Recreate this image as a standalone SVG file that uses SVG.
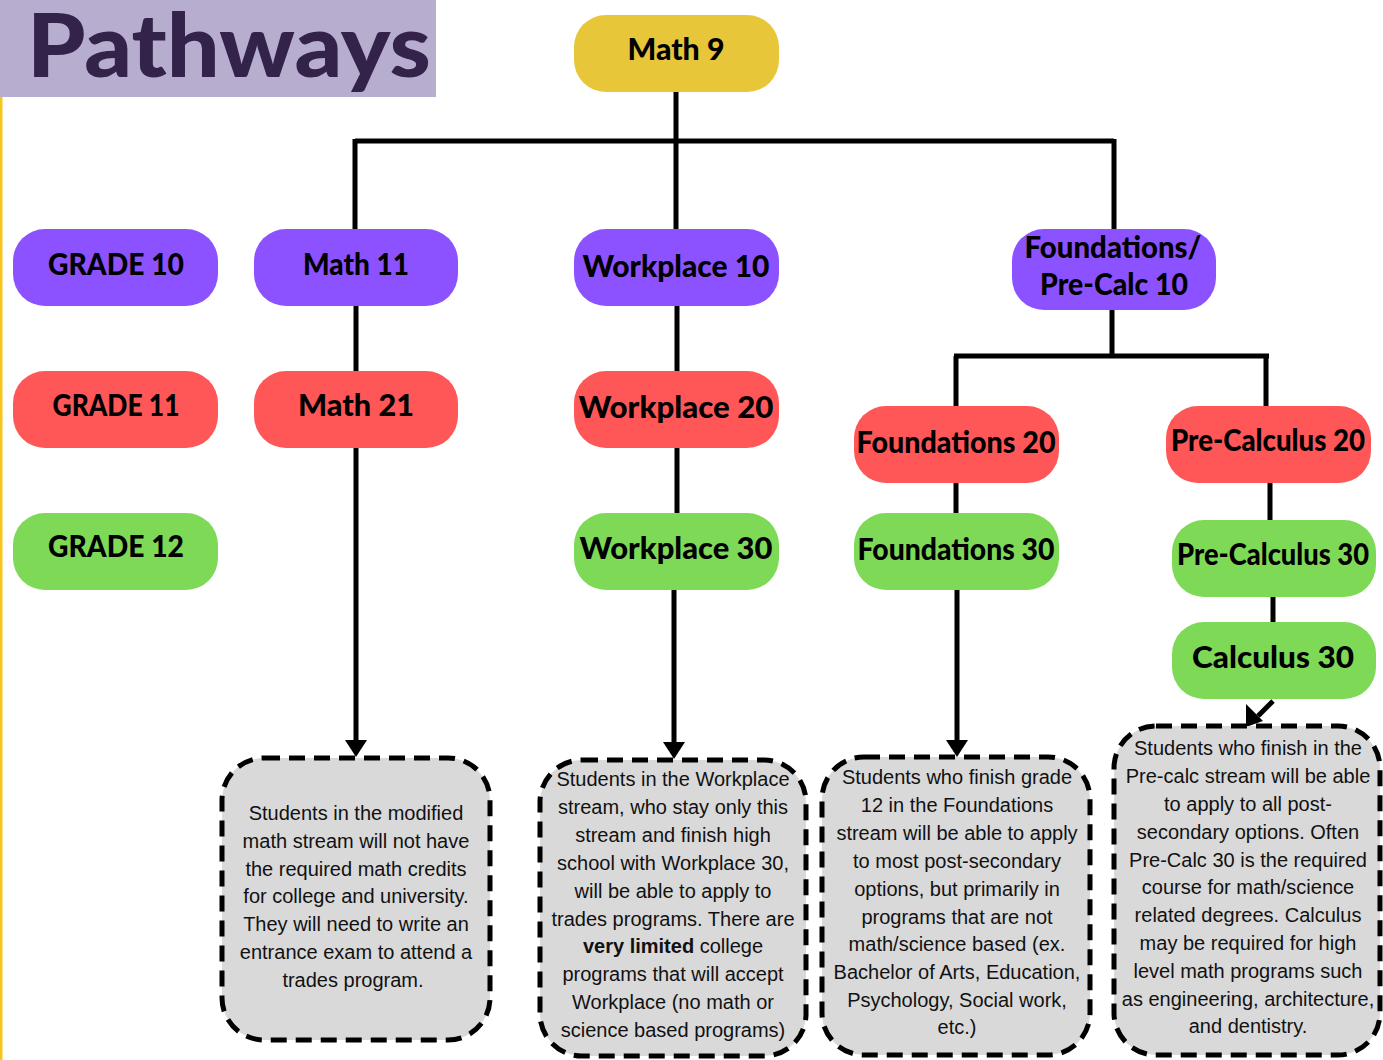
<svg xmlns="http://www.w3.org/2000/svg" width="1383" height="1060" viewBox="0 0 1383 1060">
<style>
.lbl{font-family:Lato,"Liberation Sans",sans-serif;font-weight:900;font-size:30px;fill:#000;text-anchor:middle}
.p{fill:#8c52ff}.r{fill:#ff5757}.g{fill:#7ed957}.y{fill:#e8c63a}
.note{fill:#d9d9d9;stroke:#000;stroke-width:5;stroke-dasharray:16 9}
.nt{font-family:"Liberation Sans",Arial,sans-serif;font-size:20px;fill:#111;text-anchor:middle}
.c{stroke:#000;stroke-width:5;fill:none}
</style>
<rect x="0" y="0" width="1383" height="1060" fill="#fff"/>
<rect x="0" y="97" width="2.5" height="963" fill="#f7c51c"/>
<g id="title">
<rect x="0" y="0" width="436" height="97" fill="#b7adcf"/>
<text x="27" y="77" font-family="Lato,'Liberation Sans',sans-serif" font-weight="900" font-size="88" fill="#33224a" textLength="404" lengthAdjust="spacingAndGlyphs">Pathways</text>
</g>
<g id="connectors">
<path class="c" d="M676,92 V229 M355,141 H1114 M355,139 V229 M1114,139 V229"/>
<path class="c" d="M356,306 V371 M677,306 V371 M677,448 V513"/>
<path class="c" d="M356,448 V742"/>
<path d="M345,740 L367,740 L356,757 z" fill="#000"/>
<path class="c" d="M674,590 V744"/>
<path d="M663,742 L685,742 L674,759 z" fill="#000"/>
<path class="c" d="M1112,310 V356 M954,356 H1269 M956,356 V406 M1266,356 V406"/>
<path class="c" d="M956,483 V513 M1270,483 V532 M1273,597 V622"/>
<path class="c" d="M957,590 V742"/>
<path d="M946,740 L968,740 L957,757 z" fill="#000"/>
<path class="c" d="M1273,701 L1258,716"/>
<path d="M1246,704 L1263,721 L1246,727 z" fill="#000"/>
</g>
<g id="math9"><rect class="y" x="574" y="15" width="205" height="77" rx="32"/><text class="lbl" x="676" y="60" textLength="97" lengthAdjust="spacingAndGlyphs">Math 9</text></g>
<g id="grade10"><rect class="p" x="13" y="229" width="205" height="77" rx="32"/><text class="lbl" x="116" y="275" textLength="136" lengthAdjust="spacingAndGlyphs">GRADE 10</text></g>
<g id="math11"><rect class="p" x="254" y="229" width="204" height="77" rx="32"/><text class="lbl" x="356" y="275" textLength="106" lengthAdjust="spacingAndGlyphs">Math 11</text></g>
<g id="workplace10"><rect class="p" x="574" y="229" width="205" height="77" rx="32"/><text class="lbl" x="676" y="277" textLength="187" lengthAdjust="spacingAndGlyphs">Workplace 10</text></g>
<g id="foundprecalc10"><rect class="p" x="1012" y="229" width="204" height="81" rx="32"/><text class="lbl" x="1113" y="258" textLength="177" lengthAdjust="spacingAndGlyphs">Foundations/</text><text class="lbl" x="1114" y="295" textLength="148" lengthAdjust="spacingAndGlyphs">Pre-Calc 10</text></g>
<g id="grade11"><rect class="r" x="13" y="371" width="205" height="77" rx="32"/><text class="lbl" x="116" y="416" textLength="127" lengthAdjust="spacingAndGlyphs">GRADE 11</text></g>
<g id="math21"><rect class="r" x="254" y="371" width="204" height="77" rx="32"/><text class="lbl" x="356" y="416" textLength="116" lengthAdjust="spacingAndGlyphs">Math 21</text></g>
<g id="workplace20"><rect class="r" x="574" y="371" width="205" height="77" rx="32"/><text class="lbl" x="676" y="418" textLength="195" lengthAdjust="spacingAndGlyphs">Workplace 20</text></g>
<g id="foundations20"><rect class="r" x="854" y="406" width="205" height="77" rx="32"/><text class="lbl" x="956" y="453" textLength="199" lengthAdjust="spacingAndGlyphs">Foundations 20</text></g>
<g id="precalc20"><rect class="r" x="1166" y="406" width="205" height="77" rx="32"/><text class="lbl" x="1268" y="451" textLength="194" lengthAdjust="spacingAndGlyphs">Pre-Calculus 20</text></g>
<g id="grade12"><rect class="g" x="13" y="513" width="205" height="77" rx="32"/><text class="lbl" x="116" y="557" textLength="136" lengthAdjust="spacingAndGlyphs">GRADE 12</text></g>
<g id="workplace30"><rect class="g" x="574" y="513" width="205" height="77" rx="32"/><text class="lbl" x="676" y="559" textLength="193" lengthAdjust="spacingAndGlyphs">Workplace 30</text></g>
<g id="foundations30"><rect class="g" x="854" y="513" width="205" height="77" rx="32"/><text class="lbl" x="956" y="560" textLength="197" lengthAdjust="spacingAndGlyphs">Foundations 30</text></g>
<g id="precalc30"><rect class="g" x="1172" y="520" width="204" height="77" rx="32"/><text class="lbl" x="1273" y="565" textLength="192" lengthAdjust="spacingAndGlyphs">Pre-Calculus 30</text></g>
<g id="calc30"><rect class="g" x="1172" y="622" width="204" height="77" rx="32"/><text class="lbl" x="1273" y="668" textLength="162" lengthAdjust="spacingAndGlyphs">Calculus 30</text></g>
<g id="note1">
<rect class="note" x="222" y="758" width="268" height="282" rx="42"/>
<text class="nt" x="356" y="820">Students in the modified</text>
<text class="nt" x="356" y="848">math stream will not have</text>
<text class="nt" x="356" y="876">the required math credits</text>
<text class="nt" x="356" y="903">for college and university.</text>
<text class="nt" x="356" y="931">They will need to write an</text>
<text class="nt" x="356" y="959">entrance exam to attend a</text>
<text class="nt" x="353" y="987">trades program.</text>
</g>
<g id="note2">
<rect class="note" x="540" y="760" width="266" height="296" rx="42"/>
<text class="nt" x="673" y="786">Students in the Workplace</text>
<text class="nt" x="673" y="814">stream, who stay only this</text>
<text class="nt" x="673" y="842">stream and finish high</text>
<text class="nt" x="673" y="870">school with Workplace 30,</text>
<text class="nt" x="673" y="898">will be able to apply to</text>
<text class="nt" x="673" y="926">trades programs. There are</text>
<text class="nt" x="673" y="953"><tspan font-weight="bold">very limited</tspan> college</text>
<text class="nt" x="673" y="981">programs that will accept</text>
<text class="nt" x="673" y="1009">Workplace (no math or</text>
<text class="nt" x="673" y="1037">science based programs)</text>
</g>
<g id="note3">
<rect class="note" x="822" y="757" width="268" height="298" rx="42"/>
<text class="nt" x="957" y="784">Students who finish grade</text>
<text class="nt" x="957" y="812">12 in the Foundations</text>
<text class="nt" x="957" y="840">stream will be able to apply</text>
<text class="nt" x="957" y="868">to most post-secondary</text>
<text class="nt" x="957" y="896">options, but primarily in</text>
<text class="nt" x="957" y="924">programs that are not</text>
<text class="nt" x="957" y="951">math/science based (ex.</text>
<text class="nt" x="957" y="979">Bachelor of Arts, Education,</text>
<text class="nt" x="957" y="1007">Psychology, Social work,</text>
<text class="nt" x="957" y="1034">etc.)</text>
</g>
<g id="note4">
<rect class="note" x="1114" y="726" width="266" height="329" rx="42"/>
<text class="nt" x="1248" y="755">Students who finish in the</text>
<text class="nt" x="1248" y="783">Pre-calc stream will be able</text>
<text class="nt" x="1248" y="811">to apply to all post-</text>
<text class="nt" x="1248" y="839">secondary options. Often</text>
<text class="nt" x="1248" y="867">Pre-Calc 30 is the required</text>
<text class="nt" x="1248" y="894">course for math/science</text>
<text class="nt" x="1248" y="922">related degrees. Calculus</text>
<text class="nt" x="1248" y="950">may be required for high</text>
<text class="nt" x="1248" y="978">level math programs such</text>
<text class="nt" x="1248" y="1006">as engineering, architecture,</text>
<text class="nt" x="1248" y="1033">and dentistry.</text>
</g>
</svg>
